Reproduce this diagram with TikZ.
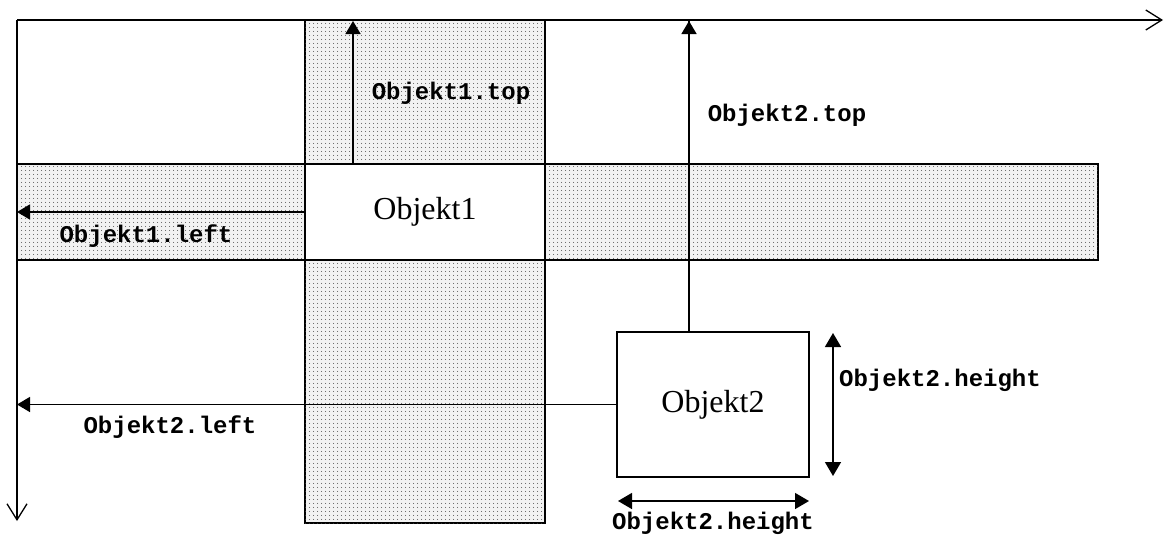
\documentclass[tikz,border=0pt]{standalone}
\usepackage{fontspec}
\setmainfont{Liberation Serif}
\newfontfamily\codefont{Liberation Mono}
\usetikzlibrary{arrows.meta,patterns.meta}
\tikzdeclarepattern{
  name=stip,
  type=uncolored,
  bounding box={(0pt,0pt) and (4pt,4pt)},
  tile size={(4pt,4pt)},
  code={\fill (2pt,2pt) circle (0.6pt);}
}
\tikzset{
  band/.style={draw=black, line width=1.3pt, fill=black!5, postaction={pattern=stip, pattern color=black!75}},
  obj/.style={draw=black, line width=2pt, fill=white, rectangle, inner sep=0pt, font=\fontsize{32}{36}\selectfont},
  axis/.style={line width=1.3pt, -{Straight Barb[length=16pt,width=20pt,line width=1.3pt]}},
  arr/.style={line width=1.5pt, -{Triangle[length=13pt,width=15pt]}},
  dbl/.style={line width=1.5pt, {Triangle[length=14pt,width=16pt]}-{Triangle[length=14pt,width=16pt]}},
  lbl/.style={font=\codefont\bfseries\fontsize{24}{28}\selectfont, inner sep=0pt}
}
\begin{document}
\begin{tikzpicture}[x=1pt,y=-1pt]
\useasboundingbox (0,0) rectangle (1164,536);
% stippled bands
\path[band] (305,20) rectangle (545,523);
\path[band] (17,164) rectangle (1098,260);
% axes
\coordinate (origin) at (17,20);
\coordinate (xend) at (1163,20);
\coordinate (yend) at (17,521);
\draw[axis] (origin) -- (xend);
\draw[axis] (origin) -- (yend);
% objects
\node[obj, minimum width=240pt, minimum height=96pt] (o1) at (425,212) {Objekt1};
\node[obj, minimum width=192pt, minimum height=145pt] (o2) at (713,404.5) {Objekt2};
% arrows for Objekt1
\coordinate (o1top) at (353,21);
\draw[arr] (o1.north -| o1top) -- (o1top);
\draw[arr] (o1.west) -- (o1.west -| origin);
\node[lbl] (l1t) at (451,93) {Objekt1.top};
\node[lbl] (l1l) at (146,236) {Objekt1.left};
% arrows for Objekt2
\coordinate (o2top) at (689,21);
\draw[line width=1.5pt] (o2.north -| o2top) -- (o2top);
\draw[arr] (o2.north -| o2top) -- (o2top);
\draw[arr] (o2.west) -- (o2.west -| origin);
\node[lbl] (l2t) at (787,115) {Objekt2.top};
\node[lbl] (l2l) at (170,427) {Objekt2.left};
% dimension arrows
\coordinate (vh1) at (833,333);
\coordinate (vh2) at (833,476);
\draw[dbl] (vh1) -- (vh2);
\coordinate (hh1) at (618,501);
\coordinate (hh2) at (809,501);
\draw[dbl] (hh1) -- (hh2);
\node[lbl] (l2h) at (940,380) {Objekt2.height};
\node[lbl] (l2w) at (713,523) {Objekt2.height};
\end{tikzpicture}
\end{document}
